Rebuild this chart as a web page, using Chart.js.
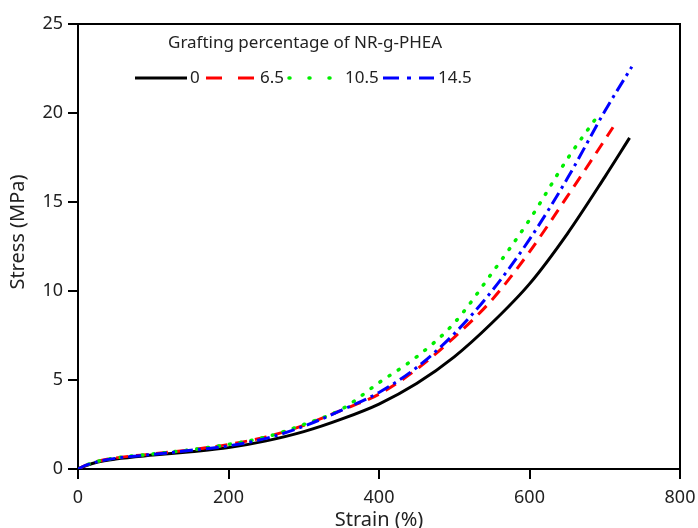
<!DOCTYPE html>
<html>
<head>
<meta charset="utf-8">
<script src="https://cdn.jsdelivr.net/npm/chart.js@4.4.0/dist/chart.umd.min.js"></script>
<style>
  html, body { margin: 0; padding: 0; background: #fff; }
  #wrap { width: 698px; height: 528px; }
</style>
</head>
<body>
<div id="wrap"><canvas id="chart-stress"></canvas></div>
<script>
// Stress-strain curves, values
const strain0 = [0, 10, 25, 50, 100, 150, 200, 250, 300, 350, 400, 450, 500, 550, 600, 650, 700, 733];
const stress0 = [0, 0.18, 0.38, 0.56, 0.78, 0.97, 1.2, 1.58, 2.1, 2.8, 3.65, 4.8, 6.3, 8.2, 10.4, 13.2, 16.4, 18.6];

const strain65 = [0, 10, 25, 50, 100, 150, 200, 250, 300, 350, 400, 450, 500, 550, 600, 650, 680, 711];
const stress65 = [0, 0.2, 0.42, 0.62, 0.85, 1.08, 1.38, 1.8, 2.45, 3.3, 4.2, 5.6, 7.4, 9.5, 12.2, 15.3, 17.2, 19.2];

const strain105 = [0, 10, 25, 50, 100, 150, 200, 250, 300, 350, 400, 450, 500, 550, 600, 650, 690];
const stress105 = [0, 0.2, 0.42, 0.62, 0.85, 1.08, 1.38, 1.8, 2.5, 3.35, 4.85, 6.3, 8.2, 11.0, 14.0, 17.4, 19.8];

const strain145 = [0, 10, 25, 50, 100, 150, 200, 250, 300, 350, 400, 450, 500, 550, 600, 650, 700, 736];
const stress145 = [0, 0.2, 0.4, 0.6, 0.82, 1.05, 1.3, 1.72, 2.4, 3.3, 4.3, 5.7, 7.6, 10.0, 12.9, 16.3, 20.1, 22.6];

const seriesLabels = ["0", "6.5", "10.5", "14.5"];
const xTicks = [0, 200, 400, 600, 800];
const yTicks = [0, 5, 10, 15, 20, 25];

const FONT = "'Noto Sans', 'Open Sans', sans-serif";
const TEXT = "#222";

function points(xs, ys) {
  return xs.map((x, i) => ({ x: x, y: ys[i] }));
}

// Legend sits inside the plot, drawn by hand to match the figure
const legendLayout = [
  { from: 135, to: 187, text: 190 },
  { from: 206, to: 254, text: 260 },
  { from: 289, to: 332, text: 345 },
  { from: 383, to: 434, text: 438 },
];

const insideLegend = {
  id: "insideLegend",
  afterDraw(chart) {
    const ctx = chart.ctx;
    ctx.save();
    ctx.fillStyle = TEXT;
    ctx.textBaseline = "middle";
    ctx.font = "17px " + FONT;
    ctx.fillText("Grafting percentage of NR-g-PHEA", 168, 43);

    const rowY = 78;
    chart.data.datasets.forEach((ds, i) => {
      const pos = legendLayout[i];
      ctx.beginPath();
      ctx.strokeStyle = ds.borderColor;
      ctx.lineWidth = ds.borderWidth;
      ctx.lineCap = ds.borderCapStyle || "butt";
      ctx.setLineDash(ds.legendDash || []);
      ctx.moveTo(pos.from, rowY);
      ctx.lineTo(pos.to, rowY);
      ctx.stroke();
      ctx.setLineDash([]);
      ctx.fillText(seriesLabels[i], pos.text, rowY);
    });

    // y axis title, a bit above the axis centre as in the figure
    ctx.save();
    ctx.translate(18, 232);
    ctx.rotate(-Math.PI / 2);
    ctx.textAlign = "center";
    ctx.font = "20px " + FONT;
    ctx.fillText("Stress (MPa)", 0, 0);
    ctx.restore();

    // top and right frame of the plot box
    const a = chart.chartArea;
    ctx.beginPath();
    ctx.strokeStyle = "#000";
    ctx.lineWidth = 2;
    ctx.lineCap = "butt";
    ctx.moveTo(a.left, a.top);
    ctx.lineTo(a.right, a.top);
    ctx.lineTo(a.right, a.bottom);
    ctx.stroke();
    ctx.restore();
  },
};

const el = document.getElementById("chart-stress");

new Chart(el, {
  type: "scatter",
  data: {
    datasets: [
      {
        label: seriesLabels[0],
        data: points(strain0, stress0),
        borderColor: "#000000",
        borderWidth: 3,
        order: 4,
      },
      {
        label: seriesLabels[1],
        data: points(strain65, stress65),
        borderColor: "#ff0000",
        borderWidth: 3,
        borderDash: [12, 8],
        legendDash: [16, 16],
        order: 3,
      },
      {
        label: seriesLabels[2],
        data: points(strain105, stress105),
        borderColor: "#00ee00",
        borderWidth: 3.5,
        borderDash: [1, 10],
        borderCapStyle: "round",
        legendDash: [1, 19],
        order: 2,
      },
      {
        label: seriesLabels[3],
        data: points(strain145, stress145),
        borderColor: "#0000ff",
        borderWidth: 3,
        borderDash: [13, 5, 3, 5],
        legendDash: [16, 8, 4, 8],
        order: 1,
      },
    ],
  },
  options: {
    responsive: true,
    maintainAspectRatio: false,
    animation: false,
    showLine: true,
    layout: { padding: { top: 24, right: 18, left: 0, bottom: 0 } },
    elements: {
      point: { radius: 0, hoverRadius: 0 },
      line: { cubicInterpolationMode: "monotone", fill: false },
    },
    plugins: {
      legend: { display: false },
      tooltip: { enabled: false },
    },
    scales: {
      x: {
        type: "linear",
        min: 0,
        max: 800,
        afterBuildTicks: (s) => { s.ticks = xTicks.map((v) => ({ value: v })); },
        afterFit: (s) => {
          s.height = 59;
          s.paddingLeft = 0;
          s.paddingRight = 0;
        },
        grid: {
          drawOnChartArea: false,
          drawTicks: true,
          tickLength: 10,
          tickColor: "#000",
          lineWidth: 2,
        },
        border: { color: "#000", width: 2 },
        ticks: {
          color: TEXT,
          padding: 8,
          maxRotation: 0,
          font: { family: FONT, size: 18 },
        },
        title: {
          display: true,
          text: "Strain (%)",
          color: TEXT,
          padding: { top: 0, bottom: -2 },
          font: { family: FONT, size: 20, lineHeight: 1 },
        },
      },
      y: {
        type: "linear",
        min: 0,
        max: 25,
        afterBuildTicks: (s) => { s.ticks = yTicks.map((v) => ({ value: v })); },
        afterFit: (s) => {
          s.width = 78;
          s.paddingTop = 0;
          s.paddingBottom = 0;
        },
        grid: {
          drawOnChartArea: false,
          drawTicks: true,
          tickLength: 10,
          tickColor: "#000",
          lineWidth: 2,
        },
        border: { color: "#000", width: 2 },
        ticks: {
          color: TEXT,
          padding: 5,
          font: { family: FONT, size: 18 },
        },
        title: { display: false },
      },
    },
  },
  plugins: [insideLegend],
});
</script>
</body>
</html>
